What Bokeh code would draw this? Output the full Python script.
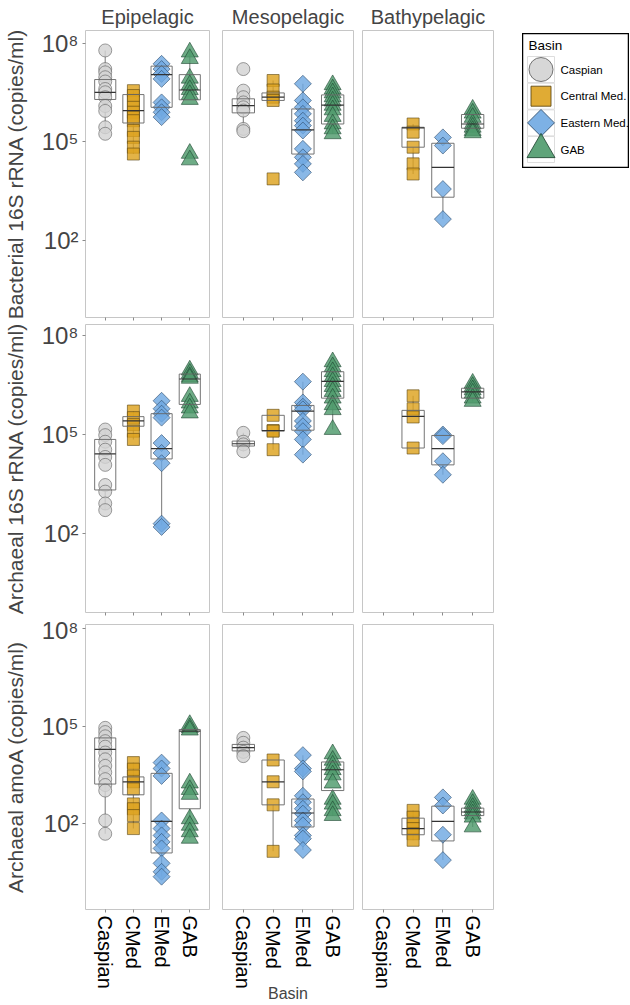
import numpy as np
from bokeh.plotting import figure
from bokeh.models import (Range1d, FactorRange, FixedTicker, CustomJSTickFormatter,
                          ColumnDataSource, Spacer)
from bokeh.transform import dodge
from bokeh.layouts import row, column
from bokeh.embed import file_html
from bokeh.resources import INLINE
from bokeh.core.properties import value

# ---------------- data (log10 copies/ml) ----------------
basins = ["Caspian", "CMed", "EMed", "GAB"]
legend_labels = ["Caspian", "Central Med.", "Eastern Med.", "GAB"]
zones = ["Epipelagic", "Mesopelagic", "Bathypelagic"]
targets = ["Bacterial 16S rRNA (copies/ml)", "Archaeal 16S rRNA (copies/ml)",
           "Archaeal amoA (copies/ml)"]

# points
bac_epi = {"Caspian": [7.80, 7.23, 7.13, 6.98, 6.85, 6.62, 6.52, 6.37, 6.10, 5.95, 5.45, 5.25],
           "CMed": [6.57, 6.42, 6.27, 6.06, 5.91, 5.76, 5.65, 5.35, 5.14, 4.84, 4.63],
           "EMed": [7.39, 7.23, 7.08, 6.93, 6.21, 6.06, 5.91, 5.76],
           "GAB": [7.75, 7.55, 6.95, 6.75, 6.60, 6.45, 6.30, 4.65, 4.45]}
bac_meso = {"Caspian": [7.23, 6.57, 6.37, 6.21, 6.06, 5.96, 5.40, 5.33],
            "CMed": [6.88, 6.59, 6.37, 6.27, 3.87],
            "EMed": [6.78, 6.27, 6.06, 5.86, 5.65, 5.50, 5.35, 4.79, 4.53, 4.33, 4.07],
            "GAB": [6.75, 6.62, 6.50, 6.38, 6.25, 6.12, 5.98, 5.78, 5.55, 5.40, 5.25]}
bac_bathy = {"Caspian": [],
             "CMed": [5.55, 5.30, 4.84, 4.33, 4.02],
             "EMed": [5.14, 4.89, 3.56, 2.64],
             "GAB": [6.00, 5.88, 5.75, 5.55, 5.45, 5.35, 5.28]}
arc_epi = {"Caspian": [5.15, 4.98, 4.78, 4.54, 4.32, 4.08, 3.47, 3.27, 2.91, 2.71],
           "CMed": [5.71, 5.51, 5.30, 5.10, 4.85],
           "EMed": [6.02, 5.78, 5.63, 5.51, 4.74, 4.44, 4.13, 2.30, 2.20],
           "GAB": [6.95, 6.85, 6.75, 6.70, 6.15, 5.95, 5.80, 5.65]}
arc_meso = {"Caspian": [5.05, 4.78, 4.70, 4.49],
            "CMed": [5.58, 5.12, 5.10, 4.54],
            "EMed": [6.60, 5.97, 5.84, 5.76, 5.41, 5.25, 5.10, 4.85, 4.39],
            "GAB": [7.20, 7.05, 6.90, 6.75, 6.60, 6.45, 6.30, 6.10, 5.90, 5.75, 5.15]}
arc_bathy = {"Caspian": [],
             "CMed": [6.17, 5.78, 5.53, 4.59],
             "EMed": [5.00, 4.95, 4.19, 3.78],
             "GAB": [6.55, 6.45, 6.35, 6.25, 6.10, 6.00]}
amo_epi = {"Caspian": [4.95, 4.82, 4.69, 4.54, 4.37, 4.19, 3.98, 3.78, 3.58, 3.37, 3.19, 3.02, 2.10, 1.69],
           "CMed": [3.88, 3.68, 3.47, 3.29, 3.07, 2.61, 2.46, 2.25, 1.85],
           "EMed": [3.88, 3.70, 3.47, 2.10, 1.85, 1.64, 1.44, 1.24, 0.78, 0.52, 0.37],
           "GAB": [5.05, 4.95, 4.88, 3.25, 3.05, 2.90, 2.15, 1.95, 1.75, 1.55]}
amo_meso = {"Caspian": [4.64, 4.49, 4.34, 4.21, 4.08],
            "CMed": [3.96, 3.29, 2.58, 1.15],
            "EMed": [4.11, 3.70, 3.61, 2.86, 2.66, 2.46, 2.31, 2.10, 1.95, 1.64, 1.54, 1.19],
            "GAB": [4.15, 3.95, 3.80, 3.66, 3.50, 3.25, 2.75, 2.60, 2.40, 2.25]}
amo_bathy = {"Caspian": [],
             "CMed": [2.41, 2.20, 2.00, 1.85, 1.69, 1.49],
             "EMed": [2.81, 2.56, 1.66, 0.88],
             "GAB": [2.75, 2.62, 2.50, 2.40, 2.30, 2.20, 1.90]}

# box stats: (lower whisker, q1, median, q3, upper whisker)
bac_epi_box = {"Caspian": (5.25, 6.30, 6.52, 6.91, 7.80), "CMed": (4.63, 5.58, 5.96, 6.45, 6.57),
               "EMed": (5.76, 6.06, 7.06, 7.32, 7.39), "GAB": (6.29, 6.29, 6.59, 7.06, 7.75)}
bac_meso_box = {"Caspian": (5.33, 5.89, 6.11, 6.32, 6.57), "CMed": (6.27, 6.27, 6.37, 6.50, 6.88),
                "EMed": (4.07, 4.63, 5.37, 6.01, 6.78), "GAB": (5.25, 5.55, 6.13, 6.44, 6.75)}
bac_bathy_box = {"CMed": (4.02, 4.84, 5.43, 5.45, 5.55), "EMed": (2.64, 3.31, 4.22, 4.96, 5.14),
                 "GAB": (5.28, 5.42, 5.55, 5.84, 6.00)}
arc_epi_box = {"Caspian": (2.71, 3.32, 4.41, 4.85, 5.15), "CMed": (4.85, 5.25, 5.41, 5.54, 5.71),
               "EMed": (2.25, 4.26, 4.57, 5.63, 6.02), "GAB": (5.65, 5.91, 6.68, 6.83, 6.95)}
arc_meso_box = {"Caspian": (4.49, 4.65, 4.72, 4.80, 5.05), "CMed": (4.54, 5.10, 5.12, 5.58, 5.58),
                "EMed": (4.39, 5.13, 5.71, 5.88, 6.60), "GAB": (5.15, 6.10, 6.61, 6.90, 7.20)}
arc_bathy_box = {"CMed": (4.59, 4.59, 5.55, 5.73, 6.17), "EMed": (3.78, 4.08, 4.57, 4.97, 5.00),
                 "GAB": (6.00, 6.10, 6.29, 6.40, 6.55)}
amo_epi_box = {"Caspian": (1.69, 3.22, 4.29, 4.64, 4.95), "CMed": (1.85, 2.89, 3.29, 3.44, 3.88),
               "EMed": (0.37, 1.10, 2.07, 3.55, 3.88), "GAB": (1.55, 2.46, 4.85, 4.90, 5.05)}
amo_meso_box = {"Caspian": (4.08, 4.24, 4.34, 4.44, 4.64), "CMed": (1.15, 2.58, 3.29, 3.96, 3.96),
                "EMed": (1.19, 1.90, 2.33, 2.76, 4.11), "GAB": (2.25, 3.02, 3.66, 3.90, 4.15)}
amo_bathy_box = {"CMed": (1.49, 1.66, 1.85, 2.17, 2.41), "EMed": (0.88, 1.47, 2.07, 2.54, 2.81),
                 "GAB": (1.90, 2.25, 2.36, 2.48, 2.75)}

# y limits per row (log10)
row_limits = [(-0.37, 8.41), (-0.39, 8.33), (-0.64, 8.13)]
y_ticks = [1e2, 1e5, 1e8]

# ---------------- styles ----------------
FONT = "Liberation Sans"
FONT_VALUE = value(FONT)
styles = {
    "Caspian": dict(marker="circle", size=13, angle=0.0, fill="#D3D3D3", line="#5E5E5E"),
    "CMed": dict(marker="square", size=12, angle=0.0, fill="#DDA21E", line="#5A4410"),
    "EMed": dict(marker="square", size=12, angle=np.pi / 4, fill="#6FA8E2", line="#2B4A6A"),
    "GAB": dict(marker="triangle", size=17, angle=0.0, fill="#4E9A6B", line="#1E4430"),
}
legend_sizes = {"Caspian": 24, "CMed": 20, "EMed": 19, "GAB": 28}

panels = [
    [(bac_epi, bac_epi_box), (bac_meso, bac_meso_box), (bac_bathy, bac_bathy_box)],
    [(arc_epi, arc_epi_box), (arc_meso, arc_meso_box), (arc_bathy, arc_bathy_box)],
    [(amo_epi, amo_epi_box), (amo_meso, amo_meso_box), (amo_bathy, amo_bathy_box)],
]

col_w = [215, 143, 145]
col_borders = [(79, 6), (7, 5), (4, 10)]
row_h = [321, 295, 388]
row_borders = [(30, 4), (3, 4), (8, 92)]

fmt = CustomJSTickFormatter(code="""
const e = Math.round(Math.log10(tick));
const sup = {'0':'\u2070','1':'\u00b9','2':'\u00b2','3':'\u00b3','4':'\u2074','5':'\u2075','6':'\u2076','7':'\u2077','8':'\u2078','9':'\u2079'};
return '10' + String(e).split('').map(c => sup[c]).join('');
""")


def make_panel(ri, ci):
    pts, box = panels[ri][ci]
    lo, hi = row_limits[ri]
    bl, br = col_borders[ci]
    bt, bb = row_borders[ri]
    p = figure(width=col_w[ci], height=row_h[ri],
               x_range=FactorRange(*basins, range_padding=0.2, range_padding_units="absolute"),
               y_range=Range1d(10 ** lo, 10 ** hi), y_axis_type="log",
               y_axis_location="left" if ci == 0 else None,
               output_backend="svg", toolbar_location=None,
               min_border_left=bl, min_border_right=br,
               min_border_top=bt, min_border_bottom=bb)
    p.background_fill_color = "white"
    p.border_fill_color = "white"
    p.outline_line_color = "#C6C6C6"
    p.outline_line_width = 1
    p.xgrid.visible = False
    p.ygrid.visible = False

    # x axis
    xa = p.xaxis[0]
    xa.axis_line_color = None
    xa.major_tick_line_color = "#8A8A8A"
    xa.major_tick_in = 0
    xa.major_tick_out = 3
    if ri < 2:
        xa.major_label_text_font_size = "1px"
        xa.major_label_text_color = None
        xa.major_label_standoff = 0
    else:
        xa.major_label_orientation = "vertical"
        xa.major_label_text_font = FONT
        xa.major_label_text_font_size = "20px"
        xa.major_label_text_color = "black"
        xa.major_label_standoff = 3
        if ci == 1:
            xa.axis_label = "Basin"
            xa.axis_label_text_font = FONT
            xa.axis_label_text_font_size = "16px"
            xa.axis_label_text_font_style = "normal"
            xa.axis_label_standoff = -7

    # y axis
    if ci == 0:
        ya = p.yaxis[0]
        ya.ticker = FixedTicker(ticks=y_ticks, minor_ticks=[])
        ya.formatter = fmt
        ya.axis_line_color = None
        ya.major_tick_line_color = "#8A8A8A"
        ya.major_tick_in = 0
        ya.major_tick_out = 3
        ya.minor_tick_line_color = None
        ya.major_label_text_font = FONT
        ya.major_label_text_font_size = "24px"
        ya.major_label_standoff = 4
        ya.axis_label = targets[ri]
        ya.axis_label_text_font = FONT
        ya.axis_label_text_font_size = "21px"
        ya.axis_label_text_font_style = "normal"
        ya.axis_label_standoff = 12

    if ri == 0:
        p.title.text = zones[ci]
        p.title.align = "center"
        p.title.text_font = FONT
        p.title.text_font_size = "20px"
        p.title.text_font_style = "normal"
        p.title.standoff = 6
        p.title.offset = 0

    # box stats
    bb_names = [b for b in basins if b in box]
    src = ColumnDataSource(dict(
        basin=bb_names,
        lo=[10 ** box[b][0] for b in bb_names],
        q1=[10 ** box[b][1] for b in bb_names],
        med=[10 ** box[b][2] for b in bb_names],
        q3=[10 ** box[b][3] for b in bb_names],
        hi=[10 ** box[b][4] for b in bb_names],
    ))
    p.segment(x0="basin", y0="q3", x1="basin", y1="hi", source=src,
              line_color="#8C8C8C", line_width=1.2)
    p.segment(x0="basin", y0="q1", x1="basin", y1="lo", source=src,
              line_color="#8C8C8C", line_width=1.2)

    # points
    for b in basins:
        vals = pts.get(b, [])
        if not vals:
            continue
        st = styles[b]
        s = ColumnDataSource(dict(x=[b] * len(vals), y=[10 ** v for v in vals]))
        p.scatter(x="x", y="y", source=s, marker=st["marker"], size=st["size"],
                  angle=st["angle"], fill_color=st["fill"], fill_alpha=0.82,
                  line_color=st["line"], line_alpha=0.75, line_width=0.8)

    # boxes on top
    p.vbar(x="basin", bottom="q1", top="q3", width=0.75, source=src,
           fill_color=None, line_color="#666666", line_width=1, line_alpha=0.9)
    p.segment(x0=dodge("basin", -0.375, range=p.x_range), y0="med",
              x1=dodge("basin", 0.375, range=p.x_range), y1="med", source=src,
              line_color="#333333", line_width=1.2)
    return p


def make_legend():
    n = len(basins)
    idx = list(range(n))
    p = figure(width=107, height=135, x_range=Range1d(0, 107), y_range=Range1d(3.71, -1.35),
               x_axis_location=None, y_axis_location=None,
               output_backend="svg", toolbar_location=None,
               min_border_left=0, min_border_right=0, min_border_top=0, min_border_bottom=0)
    p.xgrid.visible = False
    p.ygrid.visible = False
    p.outline_line_color = "black"
    p.outline_line_width = 1.5
    p.background_fill_color = "white"
    p.rect(x=[18.5] * n, y=idx, width=27, height=26, width_units="screen",
           height_units="screen", fill_color="white", line_color="#DDDDDD", line_width=1)
    for i, b in enumerate(basins):
        st = styles[b]
        p.scatter(x=[18.5], y=[i], marker=st["marker"], size=legend_sizes[b], angle=st["angle"],
                  fill_color=st["fill"], fill_alpha=0.9, line_color=st["line"],
                  line_alpha=0.85, line_width=1)
    p.text(x=[38] * n, y=idx, text=legend_labels, text_font=FONT_VALUE,
           text_font_size="11.5px", text_baseline="middle", text_color="black")
    p.text(x=[6], y=[-0.9], text=["Basin"], text_font=FONT_VALUE,
           text_font_size="13.5px", text_baseline="middle", text_color="black")
    return p


rows = []
for ri in range(3):
    figs = [make_panel(ri, ci) for ci in range(3)]
    if ri == 0:
        leg = make_legend()
        figs.append(column(Spacer(height=33), row(Spacer(width=19), leg)))
    rows.append(row(*figs))

layout = column(*rows)
open("out.html", "w").write(file_html(layout, INLINE))
